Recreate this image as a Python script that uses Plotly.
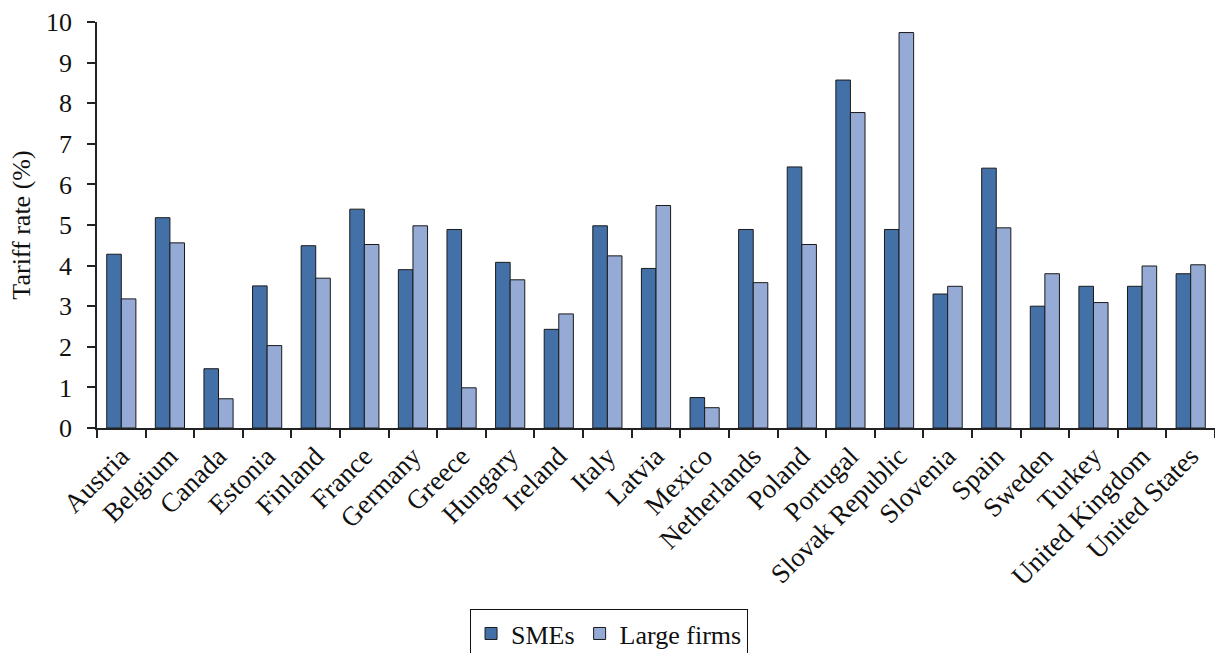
import plotly.graph_objects as go

countries = ["Austria", "Belgium", "Canada", "Estonia", "Finland", "France", "Germany",
             "Greece", "Hungary", "Ireland", "Italy", "Latvia", "Mexico", "Netherlands",
             "Poland", "Portugal", "Slovak Republic", "Slovenia", "Spain", "Sweden",
             "Turkey", "United Kingdom", "United States"]
smes = [4.28, 5.18, 1.46, 3.50, 4.49, 5.39, 3.90,
        4.89, 4.08, 2.43, 4.98, 3.93, 0.75, 4.89,
        6.43, 8.57, 4.89, 3.30, 6.40, 3.00,
        3.49, 3.49, 3.80]
large_firms = [3.18, 4.56, 0.72, 2.03, 3.69, 4.52, 4.98,
               0.99, 3.65, 2.81, 4.24, 5.48, 0.50, 3.58,
               4.52, 7.77, 9.74, 3.49, 4.93, 3.80,
               3.09, 3.99, 4.02]
y_ticks = list(range(0, 11))

FONT = "Liberation Serif, serif"

fig = go.Figure()
fig.add_trace(go.Bar(x=countries, y=smes, name="SMEs",
                     marker=dict(color="#4470a8", line=dict(color="#1a1a1a", width=1))))
fig.add_trace(go.Bar(x=countries, y=large_firms, name="Large firms",
                     marker=dict(color="#95aad4", line=dict(color="#1a1a1a", width=1))))

fig.update_layout(
    width=1215, height=653,
    margin=dict(l=97, r=0, t=22, b=225, autoexpand=False),
    paper_bgcolor="white", plot_bgcolor="white",
    font=dict(family=FONT, color="#111111", size=24),
    barmode="group", bargap=0.4, bargroupgap=0,
    legend=dict(orientation="h", x=0.458, xanchor="center", y=-0.446, yanchor="top",
                bordercolor="#111111", borderwidth=1,
                font=dict(family=FONT, size=26),
                itemwidth=30, traceorder="normal"),
    xaxis=dict(showline=True, linecolor="#222222", linewidth=1.5,
               ticks="outside", ticklen=8, tickcolor="#222222", tickwidth=1.5,
               tickson="boundaries", tickangle=-45,
               tickfont=dict(family=FONT, size=27),
               showgrid=False, automargin=False),
    yaxis=dict(range=[0, 10], tickvals=y_ticks, showline=True, linecolor="#222222",
               linewidth=1.5, ticks="outside", ticklen=8, tickcolor="#222222",
               tickwidth=1.5, tickfont=dict(family=FONT, size=26), showgrid=False,
               zeroline=False, automargin=False, ticklabelstandoff=10,
               title=dict(text="Tariff rate (%)", font=dict(family=FONT, size=26),
                          standoff=8)),
)

fig.write_html("out.html")
